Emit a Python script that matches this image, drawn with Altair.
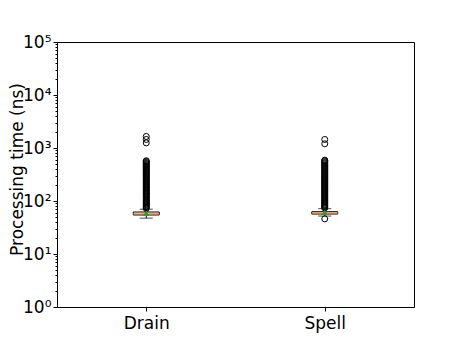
import altair as alt
import pandas as pd

categories = ["Drain", "Spell"]
q1 = [54.5, 56.8]
q3 = [62.0, 62.8]
median = [57.6, 59.4]
whisker_lo = [47.5, 52.0]
whisker_hi = [70.0, 71.6]
means = [58.5, 61.0]

drain_fliers = [72, 75, 78, 81, 85, 88, 92, 96, 100, 104, 109, 114, 119, 124, 130,
                135, 141, 147, 154, 160, 167, 175, 182, 190, 199, 207, 216, 226, 236,
                246, 257, 268, 280, 292, 305, 318, 332, 347, 362, 378, 395, 412, 430,
                449, 469, 490, 511, 534, 557, 575, 1250, 1450, 1650]
spell_fliers = [46, 74, 77, 80, 84, 87, 91, 95, 99, 103, 108, 113, 118, 123, 128,
                134, 140, 146, 152, 159, 166, 173, 181, 189, 197, 206, 215, 224, 234,
                244, 255, 266, 278, 290, 303, 316, 330, 344, 359, 375, 392, 409, 427,
                446, 466, 486, 508, 530, 553, 575, 590, 1200, 1450]

y_ticks = [1, 10, 100, 1000, 10000, 100000]
minor_ticks = [m * 10 ** e for e in range(0, 5) for m in range(2, 10)]

FONT = "DejaVu Sans"

box_df = pd.DataFrame({
    "cat": categories, "q1": q1, "q3": q3, "med": median,
    "lo": whisker_lo, "hi": whisker_hi, "mean": means,
})
flier_df = pd.DataFrame({
    "cat": ["Drain"] * len(drain_fliers) + ["Spell"] * len(spell_fliers),
    "v": drain_fliers + spell_fliers,
})

yscale = alt.Scale(type="log", domain=[1, 100000], nice=False)
xscale = alt.Scale(type="point", domain=categories, padding=0.5)

xenc = alt.X("cat:N", scale=xscale, sort=categories,
             axis=alt.Axis(title=None, labelAngle=0, labelFontSize=17, labelFont=FONT,
                           labelColor="black", tickColor="black", tickSize=4,
                           labelPadding=4, domain=False, grid=False))

yaxis = alt.Axis(values=y_ticks, title="Processing time (ns)",
                 labelExpr="'10' + ['⁰','¹','²','³','⁴','⁵'][round(log(datum.value)/LN10)]",
                 labelFontSize=17, labelFont=FONT, labelColor="black",
                 tickColor="black", tickSize=4, labelPadding=2, domain=False, grid=False,
                 titleFont=FONT, titleFontSize=17, titleFontWeight="normal",
                 titleColor="black", titleX=-35, titleY=127, titleAngle=270,
                 titleAlign="center", titleBaseline="alphabetic", orient="left")

base = alt.Chart(box_df)

whisk = base.mark_rule(color="black", strokeWidth=1).encode(
    x=xenc, y=alt.Y("lo:Q", scale=yscale, axis=yaxis), y2="hi:Q")
caps_lo = base.mark_tick(color="black", size=13, thickness=1).encode(
    x=xenc, y=alt.Y("lo:Q", scale=yscale, axis=None))
caps_hi = base.mark_tick(color="black", size=13, thickness=1).encode(
    x=xenc, y=alt.Y("hi:Q", scale=yscale, axis=None))
box = base.mark_bar(size=26, fill="white", stroke="black", strokeWidth=1).encode(
    x=xenc, y=alt.Y("q1:Q", scale=yscale, axis=None), y2="q3:Q")
med = base.mark_tick(color="#ff7f0e", size=26, thickness=1.5).encode(
    x=xenc, y=alt.Y("med:Q", scale=yscale, axis=None))
fl = alt.Chart(flier_df).mark_point(shape="circle", filled=False, color="black",
                                    size=36, strokeWidth=1, opacity=1).encode(
    x=xenc, y=alt.Y("v:Q", scale=yscale, axis=None))
mean = base.mark_point(shape="triangle-up", filled=True, color="#2ca02c",
                       size=40, opacity=1).encode(
    x=xenc, y=alt.Y("mean:Q", scale=yscale, axis=None))

minor_df = pd.DataFrame({"v": [1]})
minor = alt.Chart(minor_df).mark_point(opacity=0).encode(
    y=alt.Y("v:Q", scale=yscale,
            axis=alt.Axis(values=minor_ticks, labels=False, title=None, tickSize=2,
                          tickColor="black", domain=False, grid=False, orient="left")))

chart = alt.layer(whisk, caps_lo, caps_hi, box, med, fl, mean, minor).resolve_axis(
    y="independent"
).properties(
    width=357, height=265,
    autosize=alt.AutoSizeParams(type="none"),
    padding={"left": 49, "top": 34, "right": 30, "bottom": 30},
    background="white",
).configure_view(stroke="black", strokeWidth=1)

chart.save("out.html", embed_options={"renderer": "svg", "actions": False})
